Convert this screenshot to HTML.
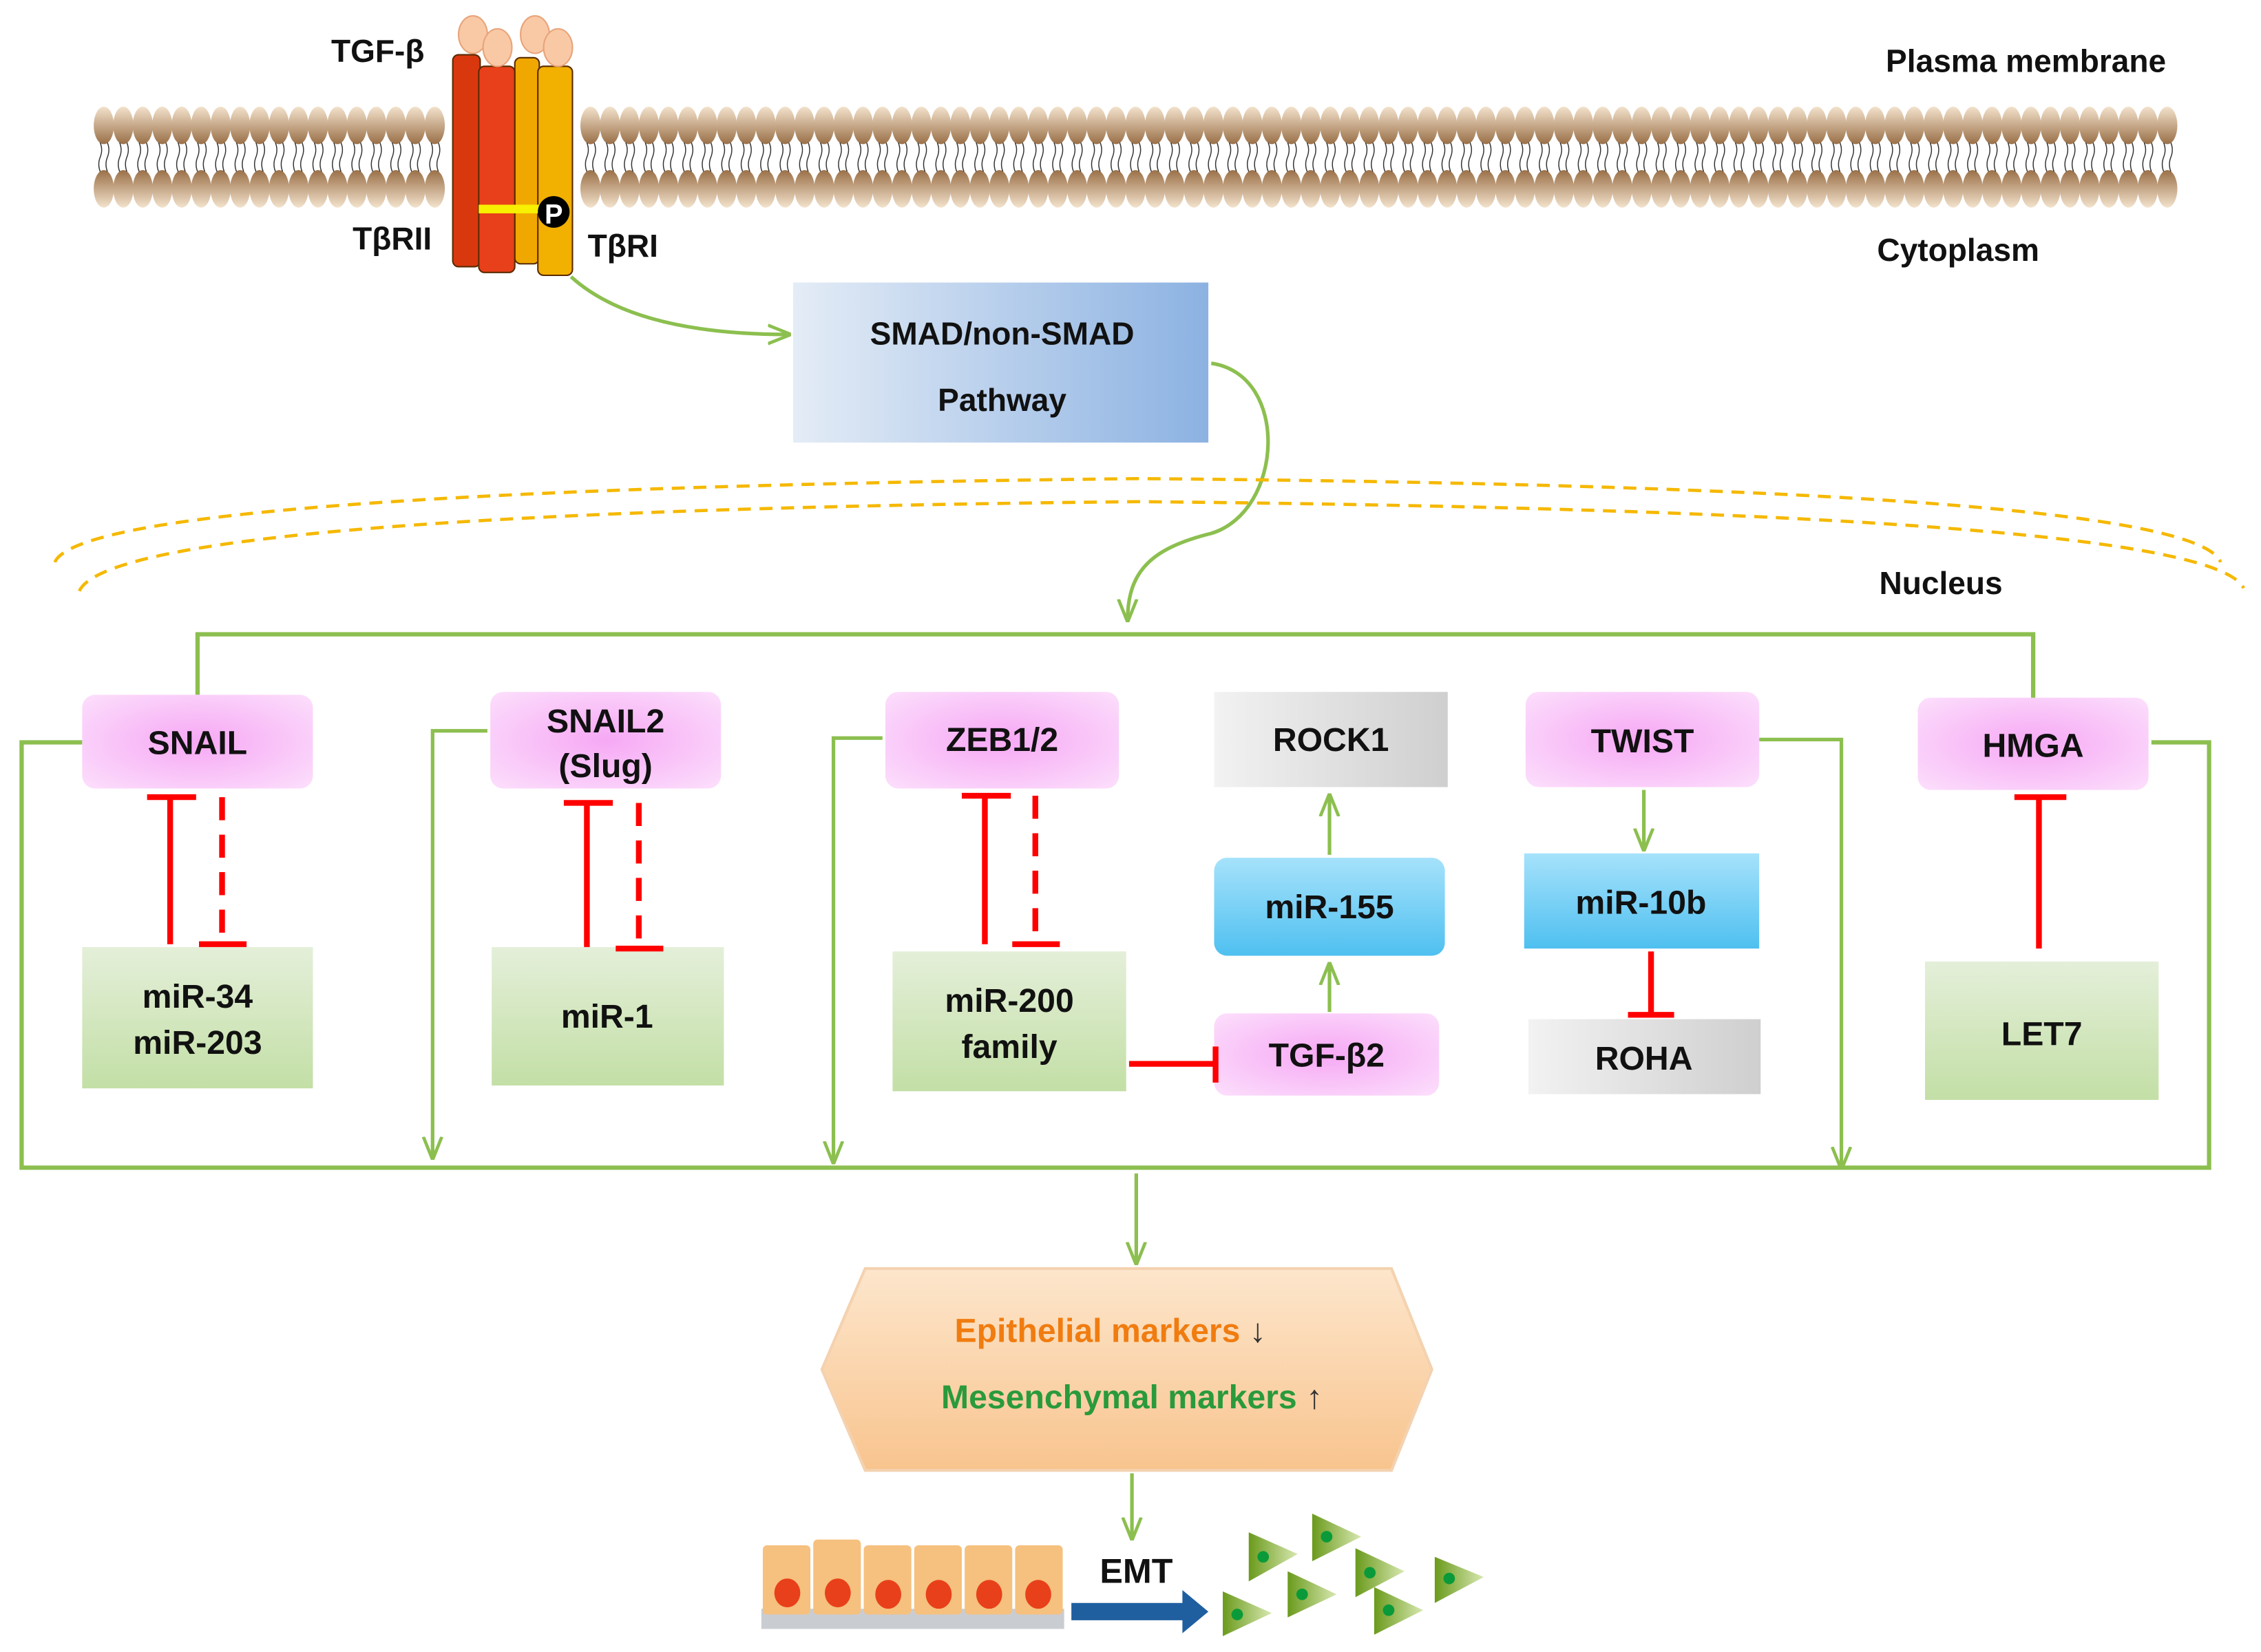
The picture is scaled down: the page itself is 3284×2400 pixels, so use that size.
<!DOCTYPE html>
<html><head><meta charset="utf-8"><style>
html,body{margin:0;padding:0;background:#fff;}
svg{display:block;}
text{font-family:"Liberation Sans",Arial,sans-serif;font-weight:bold;fill:#111;}
</style></head><body>
<svg width="3284" height="2400" viewBox="0 0 1568 1146" preserveAspectRatio="none" xmlns="http://www.w3.org/2000/svg">
<defs>
<linearGradient id="headU" x1="0" y1="0" x2="0" y2="1"><stop offset="0" stop-color="#f3e2cc"/><stop offset="1" stop-color="#9a7048"/></linearGradient>
<linearGradient id="headL" x1="0" y1="0" x2="0" y2="1"><stop offset="0" stop-color="#9a7048"/><stop offset="1" stop-color="#f3e2cc"/></linearGradient>
<linearGradient id="smad" x1="0" y1="0" x2="1" y2="0"><stop offset="0" stop-color="#e4ecf6"/><stop offset="1" stop-color="#8cb2e2"/></linearGradient>
<radialGradient id="pink" cx="0.5" cy="0.5" r="0.7"><stop offset="0" stop-color="#f6a8f4"/><stop offset="1" stop-color="#fcdffc"/></radialGradient>
<linearGradient id="green" x1="0" y1="0" x2="0" y2="1"><stop offset="0" stop-color="#e4efd9"/><stop offset="1" stop-color="#c3dfa6"/></linearGradient>
<linearGradient id="blue" x1="0" y1="0" x2="0" y2="1"><stop offset="0" stop-color="#a6e2fb"/><stop offset="1" stop-color="#4fc0f0"/></linearGradient>
<linearGradient id="gray" x1="0" y1="0" x2="1" y2="0"><stop offset="0" stop-color="#f2f2f2"/><stop offset="1" stop-color="#cfcfcf"/></linearGradient>
<linearGradient id="hex" x1="0" y1="0" x2="0" y2="1"><stop offset="0" stop-color="#fde6cc"/><stop offset="1" stop-color="#f8c48e"/></linearGradient>
<linearGradient id="tri" x1="0" y1="0" x2="1" y2="0"><stop offset="0" stop-color="#6a9a1c"/><stop offset="1" stop-color="#d8e8b0"/></linearGradient>
<marker id="gb" viewBox="0 0 10 10" refX="9" refY="5" markerWidth="16" markerHeight="16" orient="auto" markerUnits="userSpaceOnUse"><path d="M0,1 L10,5 L0,9" fill="none" stroke="#8cbf4f" stroke-width="1.4"/></marker>
</defs>

<g id="mem"></g>
<script>
(function(){
var svgNS="http://www.w3.org/2000/svg";
var g=document.getElementById('mem');
for(var x=72;x<=1504;x+=13.5){
 if(x>305&&x<405) continue;
 var e1=document.createElementNS(svgNS,'ellipse');
 e1.setAttribute('cx',x);e1.setAttribute('cy',87);e1.setAttribute('rx',7);e1.setAttribute('ry',13);e1.setAttribute('fill','url(#headU)');g.appendChild(e1);
 var e2=document.createElementNS(svgNS,'ellipse');
 e2.setAttribute('cx',x);e2.setAttribute('cy',131);e2.setAttribute('rx',7);e2.setAttribute('ry',13);e2.setAttribute('fill','url(#headL)');g.appendChild(e2);
 for(var k=-1;k<=1;k+=2){
  var p=document.createElementNS(svgNS,'path');
  var xx=x+k*2.5;
  p.setAttribute('d','M'+xx+',99 q2,5 0,10 q-2,5 0,10');
  p.setAttribute('stroke','#333');p.setAttribute('stroke-width','0.7');p.setAttribute('fill','none');
  g.appendChild(p);
 }
}
})();
</script>

<g stroke="#5a2a00" stroke-width="1">
<rect x="314" y="38" width="19" height="147" rx="4" fill="#d9380f"/>
<rect x="357" y="40" width="17" height="143" rx="4" fill="#f0a800"/>
<rect x="332" y="46" width="25" height="143" rx="4" fill="#e8401a"/>
<rect x="373" y="46" width="24" height="145" rx="4" fill="#f2b000"/>
</g>
<g fill="#f9c9a6" stroke="#e8a47a" stroke-width="1">
<ellipse cx="328" cy="24" rx="10" ry="13"/>
<ellipse cx="371" cy="24" rx="10" ry="13"/>
<ellipse cx="345" cy="33" rx="10" ry="13"/>
<ellipse cx="387" cy="33" rx="10" ry="13"/>
</g>
<rect x="332" y="142" width="42" height="6" fill="#f7f000"/>
<circle cx="384" cy="147" r="11" fill="#000"/>
<text x="384" y="155" font-size="19" text-anchor="middle" style="fill:#fff">P</text>

<text x="262" y="43" font-size="22" text-anchor="middle">TGF-β</text>
<text x="272" y="173" font-size="22" text-anchor="middle">TβRII</text>
<text x="432" y="178" font-size="22" text-anchor="middle">TβRI</text>
<text x="1405" y="50" font-size="22" text-anchor="middle">Plasma membrane</text>
<text x="1358" y="181" font-size="22" text-anchor="middle">Cytoplasm</text>
<text x="1346" y="412" font-size="22" text-anchor="middle">Nucleus</text>

<rect x="550" y="196" width="288" height="111" fill="url(#smad)"/>
<text x="695" y="239" font-size="22" text-anchor="middle">SMAD/non-SMAD</text>
<text x="695" y="285" font-size="22" text-anchor="middle">Pathway</text>

<g fill="none" stroke="#8cbf4f" stroke-width="2.5">
<path d="M396,192 Q440,232 547,232" marker-end="url(#gb)"/>
<path d="M840,252 C895,260 890,355 840,370 C800,380 782,395 782,430" marker-end="url(#gb)"/>
</g>

<g fill="none" stroke="#f5b800" stroke-width="2.2" stroke-dasharray="9,6">
<path d="M38,390 Q60,340 790,332 Q1520,338 1540,390"/>
<path d="M55,410 Q80,355 790,348 Q1530,355 1556,408"/>
</g>

<g fill="none" stroke="#8cbf4f" stroke-width="3">
<path d="M137,482 V440 H1410 V485"/>
<path d="M57,515 H15 V810 H1532 V515 H1492"/>
</g>
<g fill="none" stroke="#8cbf4f" stroke-width="2.5">
<path d="M338,507 H300 V803" marker-end="url(#gb)"/>
<path d="M612,512 H578 V806" marker-end="url(#gb)"/>
<path d="M1220,513 H1277 V810" marker-end="url(#gb)"/>
<path d="M788,814 V876" marker-end="url(#gb)"/>
<path d="M785,1022 V1067" marker-end="url(#gb)"/>
<path d="M922,702 V669" marker-end="url(#gb)"/>
<path d="M922,593 V552" marker-end="url(#gb)"/>
<path d="M1140,548 V589" marker-end="url(#gb)"/>
</g>

<g fill="url(#pink)">
<rect x="57" y="482" width="160" height="65" rx="9"/>
<rect x="340" y="480" width="160" height="67" rx="9"/>
<rect x="614" y="480" width="162" height="67" rx="9"/>
<rect x="1058" y="480" width="162" height="66" rx="9"/>
<rect x="1330" y="484" width="160" height="64" rx="9"/>
<rect x="842" y="703" width="156" height="57" rx="9"/>
</g>
<rect x="842" y="480" width="162" height="66" fill="url(#gray)"/>
<rect x="1060" y="707" width="161" height="52" fill="url(#gray)"/>
<rect x="842" y="595" width="160" height="68" rx="9" fill="url(#blue)"/>
<rect x="1057" y="592" width="163" height="66" fill="url(#blue)"/>
<g fill="url(#green)">
<rect x="57" y="657" width="160" height="98"/>
<rect x="341" y="657" width="161" height="96"/>
<rect x="619" y="660" width="162" height="97"/>
<rect x="1335" y="667" width="162" height="96"/>
</g>

<g font-size="23" text-anchor="middle">
<text x="137" y="523">SNAIL</text>
<text x="420" y="508">SNAIL2</text>
<text x="420" y="539">(Slug)</text>
<text x="695" y="521">ZEB1/2</text>
<text x="923" y="521">ROCK1</text>
<text x="1139" y="522">TWIST</text>
<text x="1410" y="525">HMGA</text>
<text x="922" y="637">miR-155</text>
<text x="1138" y="634">miR-10b</text>
<text x="920" y="740">TGF-β2</text>
<text x="1140" y="742">ROHA</text>
<text x="137" y="699">miR-34</text>
<text x="137" y="731">miR-203</text>
<text x="421" y="713">miR-1</text>
<text x="700" y="702">miR-200</text>
<text x="700" y="734">family</text>
<text x="1416" y="725">LET7</text>
</g>

<g stroke="#ff0000" stroke-width="4" fill="none">
<path d="M118,655 V553 M102,553 H136"/>
<path d="M154,553 V652" stroke-dasharray="16,10"/><path d="M138,655 H171"/>
<path d="M407,657 V557 M391,557 H425"/>
<path d="M443,557 V655" stroke-dasharray="16,10"/><path d="M427,658 H460"/>
<path d="M683,655 V552 M667,552 H701"/>
<path d="M718,552 V652" stroke-dasharray="16,10"/><path d="M702,655 H735"/>
<path d="M783,738 H843 M843,726 V751"/>
<path d="M1145,660 V704 M1129,704 H1161"/>
<path d="M1414,658 V553 M1397,553 H1433"/>
</g>

<polygon points="570,950 600,880 965,880 993,950 965,1020 600,1020" fill="url(#hex)" stroke="#f4d2b0" stroke-width="2"/>
<text x="770" y="931" font-size="23" text-anchor="middle" style="fill:#f07c10">Epithelial  markers <tspan style="fill:#333">↓</tspan></text>
<text x="785" y="977" font-size="23" text-anchor="middle" style="fill:#2a9a3c">Mesenchymal markers <tspan style="fill:#333">↑</tspan></text>

<rect x="528" y="1116" width="210" height="14" fill="#c9cdd2"/>
<g fill="#f6c07e">
<rect x="529" y="1072" width="33" height="48" rx="3"/>
<rect x="564" y="1068" width="33" height="52" rx="3"/>
<rect x="599" y="1072" width="33" height="48" rx="3"/>
<rect x="634" y="1072" width="33" height="48" rx="3"/>
<rect x="669" y="1072" width="33" height="48" rx="3"/>
<rect x="704" y="1072" width="33" height="48" rx="3"/>
</g>
<g fill="#e8401a">
<ellipse cx="546" cy="1105" rx="9" ry="10"/><ellipse cx="581" cy="1105" rx="9" ry="10"/>
<ellipse cx="616" cy="1106" rx="9" ry="10"/><ellipse cx="651" cy="1106" rx="9" ry="10"/>
<ellipse cx="686" cy="1106" rx="9" ry="10"/><ellipse cx="720" cy="1106" rx="9" ry="10"/>
</g>
<text x="788" y="1098" font-size="24" text-anchor="middle">EMT</text>
<polygon points="743,1112 820,1112 820,1103 838,1118 820,1133 820,1124 743,1124" fill="#1f5fa0"/>
<g fill="url(#tri)">
<polygon points="866,1063 900,1078 866,1097"/>
<polygon points="910,1050 944,1066 910,1083"/>
<polygon points="940,1074 974,1090 940,1108"/>
<polygon points="995,1080 1029,1094 995,1112"/>
<polygon points="848,1104 882,1119 848,1135"/>
<polygon points="893,1090 927,1106 893,1122"/>
<polygon points="953,1101 987,1117 953,1134"/>
</g>
<g fill="#0a9a3a">
<circle cx="876" cy="1080" r="4"/><circle cx="920" cy="1066" r="4"/><circle cx="950" cy="1091" r="4"/>
<circle cx="1005" cy="1095" r="4"/><circle cx="858" cy="1120" r="4"/><circle cx="903" cy="1106" r="4"/>
<circle cx="963" cy="1117" r="4"/>
</g>
</svg>
</body></html>
